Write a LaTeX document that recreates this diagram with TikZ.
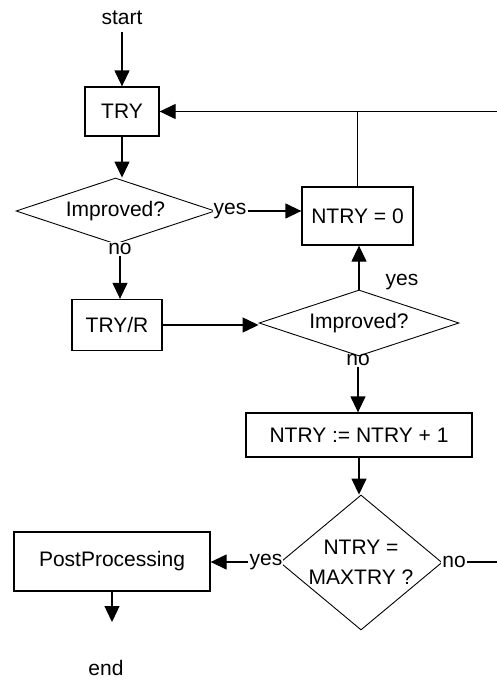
\documentclass[tikz,border=0pt]{standalone}
\usepackage{fontspec}
\setmainfont{Liberation Sans}
\usetikzlibrary{shapes.geometric,arrows.meta}
\begin{document}
\begin{tikzpicture}[x=1pt,y=-1pt,
  every node/.style={font=\fontsize{21}{30}\selectfont},
  box/.style={draw,line width=1.3pt,rectangle,inner sep=0pt},
  dia/.style={draw,line width=0.9pt,diamond,inner sep=0pt,aspect=3},
  lbl/.style={inner sep=1pt},
  lblw/.style={inner sep=1pt,fill=white},
  arr/.style={line width=1.3pt,-{Triangle[width=15pt,length=16pt]}},
  ln/.style={line width=1.3pt}]
\fill[white] (0,0) rectangle (497,680);
\useasboundingbox (0,0) rectangle (497,680);
% nodes
\node (start) at (122,18) {start};
\node[box,minimum width=74pt,minimum height=49pt] (try) at (122,111.5) {TRY};
\node[dia,minimum width=199pt,minimum height=66pt] (d1) at (115.5,211) {Improved?};
\node[lblw] (yes1) at (230,211) {yes};
\node[lblw] (no1) at (120,249) {no};
\node[box,minimum width=111pt,minimum height=58pt] (ntry0) at (357.5,216) {NTRY = 0};
\node[box,minimum width=90pt,minimum height=51pt] (tryr) at (117,325) {TRY/R};
\node[dia,minimum width=200pt,minimum height=66pt] (d2) at (359,323) {Improved?};
\node[lbl] (yes2) at (402,282) {yes};
\node[lbl] (no2) at (358,360) {no};
\node[box,minimum width=226pt,minimum height=44pt] (inc) at (359,435) {NTRY := NTRY + 1};
\node[dia,minimum width=162pt,minimum height=135pt] (d3) at (361,562.5) {};
\node[align=center] (d3t) at (361,562) {NTRY =\\MAXTRY ?};
\node[lblw] (yes3) at (266,562) {yes};
\node[lblw] (no3) at (454,562) {no};
\node[box,minimum width=196pt,minimum height=59pt] (post) at (112,561.5) {PostProcessing};
\node (endn) at (106,668) {end};
\coordinate (rt1) at (497,111.5);
\coordinate (rt2) at (497,562);
\coordinate (endtip) at (112,622);
% connectors
\draw[arr,shorten <=4pt] (start) -- (try);
\draw[arr] (try.south) -- (try.south |- d1.north);
\draw[arr] (yes1.east) -- (yes1.east -| ntry0.west);
\draw[arr] (no1.south) -- (no1.south |- tryr.north);
\draw[arr] (tryr.east) -- (tryr.east -| d2.west);
\draw[arr] (d2.north) -- (d2.north |- ntry0.south);
\draw[ln] (ntry0.north) -- (ntry0.north |- try.east);
\draw[arr] (rt1) -- (try.east);
\draw[arr] (no2.south) -- (no2.south |- inc.north);
\draw[arr] (inc.south) -- (inc.south |- d3.north);
\draw[arr] (yes3.west) -- (yes3.west -| post.east);
\draw[ln] (no3.east) -- (rt2);
\draw[arr] (post.south) -- (endtip);
\end{tikzpicture}
\end{document}
